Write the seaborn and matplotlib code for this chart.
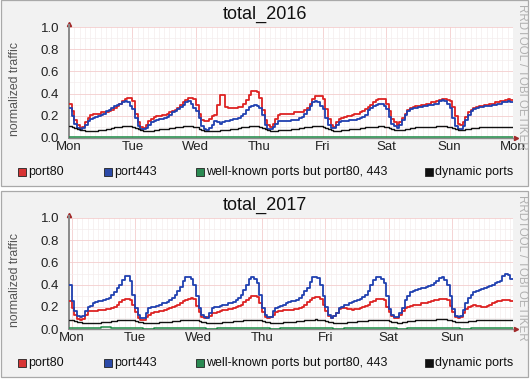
import numpy as np
import pandas as pd
import matplotlib
matplotlib.use('Agg')
import matplotlib.pyplot as plt
import seaborn as sns
from matplotlib.patches import Rectangle
from matplotlib.ticker import MultipleLocator

# ---- data (hourly values) ----
day_labels_2016 = ['Mon', 'Tue', 'Wed', 'Thu', 'Fri', 'Sat', 'Sun', 'Mon']
day_labels_2017 = ['Mon', 'Tue', 'Wed', 'Thu', 'Fri', 'Sat', 'Sun']
series_names = ['port80', 'port443', 'well-known ports but port80, 443', 'dynamic ports']

# 2016: one row per day, Mon 00:00 .. Sun 23:00
port80_2016 = [
    0.31, 0.24, 0.16, 0.12, 0.09, 0.10, 0.14, 0.18, 0.21, 0.22, 0.22, 0.22, 0.23, 0.23, 0.23, 0.24, 0.25, 0.27, 0.29, 0.31, 0.33, 0.35, 0.36, 0.36,
    0.33, 0.22, 0.14, 0.10, 0.09, 0.12, 0.15, 0.17, 0.19, 0.20, 0.20, 0.21, 0.21, 0.22, 0.23, 0.24, 0.25, 0.27, 0.30, 0.32, 0.34, 0.36, 0.36, 0.35,
    0.30, 0.22, 0.16, 0.15, 0.15, 0.17, 0.20, 0.21, 0.30, 0.39, 0.39, 0.28, 0.27, 0.27, 0.27, 0.27, 0.28, 0.28, 0.31, 0.34, 0.39, 0.42, 0.42, 0.41,
    0.36, 0.25, 0.16, 0.12, 0.10, 0.13, 0.17, 0.21, 0.22, 0.22, 0.22, 0.22, 0.22, 0.23, 0.23, 0.23, 0.23, 0.25, 0.27, 0.31, 0.35, 0.38, 0.38, 0.38,
    0.35, 0.26, 0.17, 0.12, 0.10, 0.14, 0.17, 0.18, 0.19, 0.20, 0.20, 0.21, 0.22, 0.22, 0.23, 0.24, 0.26, 0.28, 0.30, 0.32, 0.34, 0.35, 0.35, 0.35,
    0.31, 0.24, 0.17, 0.14, 0.12, 0.14, 0.18, 0.22, 0.25, 0.27, 0.28, 0.29, 0.29, 0.30, 0.30, 0.31, 0.31, 0.32, 0.32, 0.33, 0.34, 0.35, 0.35, 0.34,
    0.33, 0.28, 0.20, 0.13, 0.12, 0.14, 0.19, 0.23, 0.25, 0.27, 0.28, 0.29, 0.29, 0.30, 0.30, 0.31, 0.31, 0.32, 0.32, 0.33, 0.33, 0.34, 0.35, 0.34,
]
port443_2016 = [
    0.27, 0.20, 0.13, 0.09, 0.07, 0.09, 0.12, 0.15, 0.17, 0.18, 0.19, 0.20, 0.21, 0.22, 0.24, 0.25, 0.27, 0.29, 0.30, 0.31, 0.32, 0.33, 0.32, 0.29,
    0.26, 0.18, 0.11, 0.08, 0.08, 0.09, 0.12, 0.14, 0.15, 0.16, 0.17, 0.17, 0.18, 0.19, 0.21, 0.23, 0.24, 0.26, 0.28, 0.30, 0.32, 0.33, 0.31, 0.27,
    0.24, 0.18, 0.11, 0.08, 0.07, 0.09, 0.12, 0.15, 0.14, 0.13, 0.14, 0.15, 0.15, 0.16, 0.17, 0.17, 0.18, 0.20, 0.22, 0.25, 0.28, 0.29, 0.30, 0.29,
    0.27, 0.21, 0.12, 0.08, 0.08, 0.10, 0.13, 0.15, 0.15, 0.15, 0.15, 0.15, 0.16, 0.16, 0.16, 0.18, 0.19, 0.22, 0.25, 0.29, 0.32, 0.33, 0.32, 0.29,
    0.26, 0.18, 0.12, 0.09, 0.09, 0.12, 0.14, 0.15, 0.15, 0.15, 0.16, 0.16, 0.16, 0.17, 0.18, 0.19, 0.21, 0.25, 0.27, 0.29, 0.30, 0.31, 0.31, 0.29,
    0.26, 0.19, 0.13, 0.11, 0.09, 0.12, 0.16, 0.21, 0.24, 0.26, 0.27, 0.27, 0.28, 0.28, 0.29, 0.29, 0.30, 0.30, 0.31, 0.31, 0.33, 0.34, 0.33, 0.31,
    0.27, 0.18, 0.11, 0.08, 0.08, 0.11, 0.16, 0.21, 0.24, 0.26, 0.27, 0.28, 0.28, 0.29, 0.29, 0.29, 0.30, 0.30, 0.31, 0.31, 0.32, 0.32, 0.33, 0.32,
]
dynamic_2016 = [
    0.110, 0.100, 0.090, 0.080, 0.070, 0.070, 0.065, 0.060, 0.060, 0.060, 0.065, 0.070, 0.070, 0.075, 0.080, 0.085, 0.090, 0.095, 0.100, 0.100, 0.105, 0.110, 0.110, 0.110,
    0.100, 0.090, 0.080, 0.070, 0.065, 0.060, 0.060, 0.065, 0.070, 0.075, 0.080, 0.080, 0.080, 0.085, 0.090, 0.090, 0.095, 0.100, 0.100, 0.105, 0.110, 0.110, 0.110, 0.100,
    0.095, 0.085, 0.075, 0.065, 0.060, 0.060, 0.060, 0.065, 0.065, 0.070, 0.070, 0.070, 0.075, 0.080, 0.080, 0.085, 0.090, 0.095, 0.100, 0.100, 0.105, 0.110, 0.110, 0.105,
    0.100, 0.090, 0.080, 0.070, 0.065, 0.060, 0.065, 0.070, 0.070, 0.070, 0.075, 0.075, 0.080, 0.080, 0.085, 0.090, 0.090, 0.095, 0.100, 0.100, 0.105, 0.110, 0.110, 0.105,
    0.100, 0.090, 0.080, 0.070, 0.065, 0.065, 0.065, 0.070, 0.075, 0.075, 0.080, 0.080, 0.085, 0.085, 0.090, 0.090, 0.095, 0.095, 0.100, 0.100, 0.100, 0.105, 0.105, 0.100,
    0.095, 0.090, 0.080, 0.075, 0.070, 0.070, 0.075, 0.080, 0.085, 0.090, 0.090, 0.095, 0.095, 0.095, 0.100, 0.100, 0.100, 0.100, 0.100, 0.105, 0.105, 0.105, 0.105, 0.100,
    0.095, 0.090, 0.080, 0.075, 0.070, 0.072, 0.078, 0.082, 0.088, 0.090, 0.092, 0.095, 0.095, 0.098, 0.100, 0.100, 0.100, 0.102, 0.102, 0.100, 0.100, 0.100, 0.100, 0.100,
]
# well-known ports, 4-hour steps
wellknown_2016 = [
    0.008, 0.006, 0.008, 0.010, 0.010, 0.009, 0.008, 0.006, 0.008, 0.011, 0.010, 0.009,
    0.008, 0.006, 0.009, 0.011, 0.010, 0.009, 0.008, 0.006, 0.008, 0.010, 0.010, 0.009,
    0.008, 0.006, 0.008, 0.010, 0.010, 0.009, 0.008, 0.007, 0.008, 0.009, 0.009, 0.008,
    0.008, 0.007, 0.008, 0.009, 0.009, 0.008,
]

# 2017: first value is Sun 23:00, then one row per day from Mon 00:00 (last row stops at Sun 22:00)
port80_2017 = [0.25] + [
    0.19, 0.13, 0.09, 0.08, 0.09, 0.13, 0.16, 0.16, 0.16, 0.16, 0.17, 0.17, 0.17, 0.18, 0.18, 0.19, 0.20, 0.22, 0.24, 0.26, 0.27, 0.27, 0.26, 0.22,
    0.15, 0.10, 0.08, 0.08, 0.11, 0.13, 0.14, 0.15, 0.15, 0.16, 0.16, 0.17, 0.18, 0.19, 0.20, 0.21, 0.22, 0.23, 0.25, 0.26, 0.27, 0.28, 0.27, 0.21,
    0.15, 0.11, 0.10, 0.11, 0.12, 0.14, 0.14, 0.15, 0.16, 0.17, 0.17, 0.18, 0.18, 0.19, 0.20, 0.21, 0.22, 0.24, 0.26, 0.28, 0.30, 0.30, 0.29, 0.23,
    0.15, 0.11, 0.10, 0.11, 0.13, 0.15, 0.16, 0.16, 0.17, 0.17, 0.17, 0.17, 0.18, 0.18, 0.19, 0.20, 0.22, 0.24, 0.26, 0.28, 0.29, 0.29, 0.27, 0.22,
    0.16, 0.12, 0.10, 0.12, 0.14, 0.18, 0.19, 0.19, 0.18, 0.18, 0.17, 0.18, 0.18, 0.19, 0.20, 0.21, 0.22, 0.24, 0.25, 0.27, 0.27, 0.27, 0.26, 0.20,
    0.15, 0.12, 0.10, 0.10, 0.13, 0.16, 0.19, 0.20, 0.21, 0.22, 0.22, 0.22, 0.23, 0.23, 0.23, 0.24, 0.25, 0.26, 0.26, 0.27, 0.27, 0.27, 0.26, 0.21,
    0.15, 0.11, 0.10, 0.11, 0.14, 0.18, 0.20, 0.21, 0.22, 0.21, 0.21, 0.20, 0.20, 0.21, 0.22, 0.23, 0.24, 0.25, 0.25, 0.26, 0.26, 0.26, 0.25,
]
port443_2017 = [0.40] + [
    0.25, 0.16, 0.12, 0.11, 0.12, 0.16, 0.20, 0.21, 0.23, 0.24, 0.25, 0.25, 0.26, 0.27, 0.28, 0.31, 0.33, 0.37, 0.40, 0.44, 0.48, 0.48, 0.43, 0.31,
    0.19, 0.13, 0.10, 0.10, 0.14, 0.19, 0.20, 0.20, 0.21, 0.22, 0.23, 0.23, 0.24, 0.26, 0.28, 0.31, 0.34, 0.38, 0.43, 0.47, 0.47, 0.45, 0.40, 0.30,
    0.19, 0.13, 0.11, 0.10, 0.14, 0.19, 0.20, 0.20, 0.21, 0.22, 0.22, 0.23, 0.23, 0.24, 0.26, 0.28, 0.31, 0.35, 0.40, 0.45, 0.47, 0.45, 0.41, 0.31,
    0.19, 0.13, 0.11, 0.11, 0.16, 0.19, 0.20, 0.21, 0.22, 0.23, 0.24, 0.25, 0.25, 0.26, 0.28, 0.31, 0.34, 0.37, 0.42, 0.47, 0.47, 0.46, 0.40, 0.30,
    0.20, 0.13, 0.10, 0.12, 0.14, 0.19, 0.20, 0.22, 0.22, 0.23, 0.24, 0.25, 0.26, 0.27, 0.29, 0.31, 0.34, 0.40, 0.44, 0.47, 0.47, 0.45, 0.41, 0.30,
    0.18, 0.13, 0.11, 0.11, 0.14, 0.19, 0.26, 0.30, 0.33, 0.34, 0.35, 0.36, 0.37, 0.37, 0.38, 0.39, 0.40, 0.41, 0.43, 0.46, 0.47, 0.44, 0.40, 0.30,
    0.18, 0.12, 0.11, 0.12, 0.17, 0.23, 0.28, 0.31, 0.33, 0.34, 0.35, 0.36, 0.37, 0.38, 0.39, 0.40, 0.41, 0.42, 0.43, 0.48, 0.50, 0.49, 0.45,
]
dynamic_2017 = [0.085] + [
    0.080, 0.075, 0.065, 0.060, 0.055, 0.050, 0.050, 0.050, 0.050, 0.055, 0.055, 0.060, 0.060, 0.065, 0.065, 0.070, 0.075, 0.080, 0.080, 0.085, 0.085, 0.085, 0.085, 0.080,
    0.075, 0.065, 0.060, 0.055, 0.050, 0.050, 0.050, 0.055, 0.055, 0.060, 0.060, 0.060, 0.065, 0.065, 0.070, 0.070, 0.075, 0.080, 0.080, 0.085, 0.085, 0.085, 0.085, 0.080,
    0.075, 0.065, 0.060, 0.055, 0.050, 0.050, 0.050, 0.055, 0.055, 0.060, 0.060, 0.065, 0.065, 0.070, 0.070, 0.075, 0.075, 0.080, 0.080, 0.085, 0.085, 0.085, 0.085, 0.080,
    0.075, 0.065, 0.060, 0.055, 0.050, 0.050, 0.055, 0.055, 0.060, 0.060, 0.060, 0.065, 0.065, 0.070, 0.070, 0.075, 0.080, 0.080, 0.085, 0.085, 0.090, 0.085, 0.085, 0.080,
    0.075, 0.065, 0.060, 0.055, 0.050, 0.050, 0.055, 0.055, 0.060, 0.060, 0.065, 0.065, 0.070, 0.070, 0.075, 0.075, 0.080, 0.080, 0.085, 0.085, 0.085, 0.085, 0.085, 0.080,
    0.075, 0.065, 0.060, 0.055, 0.055, 0.060, 0.065, 0.070, 0.075, 0.075, 0.080, 0.080, 0.080, 0.085, 0.085, 0.085, 0.085, 0.085, 0.090, 0.090, 0.090, 0.090, 0.085, 0.080,
    0.075, 0.065, 0.060, 0.060, 0.060, 0.065, 0.070, 0.075, 0.075, 0.080, 0.080, 0.080, 0.080, 0.080, 0.080, 0.085, 0.085, 0.085, 0.085, 0.085, 0.085, 0.085, 0.085,
]
wellknown_2017 = [
    0.006, 0.005, 0.012, 0.015, 0.006, 0.005, 0.005, 0.004, 0.006, 0.012, 0.010, 0.006,
    0.005, 0.004, 0.006, 0.008, 0.006, 0.005, 0.005, 0.004, 0.006, 0.007, 0.006, 0.005,
    0.005, 0.004, 0.006, 0.007, 0.006, 0.005, 0.005, 0.004, 0.006, 0.008, 0.006, 0.005,
    0.005, 0.004, 0.006, 0.007, 0.006, 0.005,
]

colors = {
    'port80': '#dd2222',
    'port443': '#2040b0',
    'well-known ports but port80, 443': '#1d8a46',
    'dynamic ports': '#111111',
}
legend_fill = ['#d83434', '#2c4aa8', '#2a8a52', '#111111']

sns.set_theme(style='white')
plt.rcParams['font.family'] = ['Liberation Sans', 'DejaVu Sans']

W, H = 530, 380


def to_frame(start, step, values, name):
    """step data -> long frame, last value repeated so the final step is drawn"""
    hours = start + step * np.arange(len(values) + 1)
    vals = list(values) + [values[-1]]
    return pd.DataFrame({'hour': hours, 'value': vals, 'series': name})


def draw_panel(fig, top, title, p80, p443, wk, dyn, start, day_labels):
    # panel background box
    fig.add_artist(Rectangle((1 / W, 1 - (top + 186) / H), 527 / W, 186 / H,
                             transform=fig.transFigure, facecolor='#f2f2f2',
                             edgecolor='#a9a9a9', linewidth=0.9, zorder=0))

    ax = fig.add_axes([69 / W, 1 - (top + 138) / H, 444 / W, 111 / H])
    ax.set_facecolor('white')

    df = pd.concat([
        to_frame(start, 1, p80, 'port80'),
        to_frame(start, 1, p443, 'port443'),
        to_frame(start, 4, wk, 'well-known ports but port80, 443'),
        to_frame(start, 1, dyn, 'dynamic ports'),
    ], ignore_index=True)

    for name, lw in zip(series_names, [1.3, 1.3, 1.1, 1.0]):
        sns.lineplot(data=df[df['series'] == name], x='hour', y='value',
                     color=colors[name], drawstyle='steps-post', linewidth=lw,
                     estimator=None, legend=False, ax=ax, zorder=3)

    ax.set_xlim(start, start + 168)
    ax.set_ylim(0, 1.0)
    ax.set_xticks(np.arange(len(day_labels)) * 24)
    ax.set_xticklabels(day_labels)
    ax.set_yticks(np.arange(0, 1.01, 0.2))
    ax.set_yticklabels([f'{v:.1f}' for v in np.arange(0, 1.01, 0.2)])
    ax.xaxis.set_minor_locator(MultipleLocator(2))
    ax.yaxis.set_minor_locator(MultipleLocator(0.1))
    ax.grid(which='minor', color='#f4eded', linewidth=0.5)
    ax.grid(which='major', color='#f4cdcd', linewidth=0.6)
    ax.set_axisbelow(True)
    ax.tick_params(which='both', length=0)
    ax.tick_params(axis='y', pad=7, labelsize=9.5, labelcolor='#222222')
    ax.tick_params(axis='x', pad=2, labelsize=9.5, labelcolor='#222222')
    ax.set_xlabel('')
    ax.set_ylabel('')
    for s in ['top', 'right']:
        ax.spines[s].set_visible(False)
    ax.spines['left'].set_color('#8a8a8a')
    ax.spines['left'].set_linewidth(1.4)
    ax.spines['left'].set_bounds(0, 1.02)
    ax.spines['bottom'].set_color('#8a8a8a')
    ax.spines['bottom'].set_linewidth(1.0)
    # rrdtool style arrow heads
    ax.plot([0], [1.025], transform=ax.transAxes, marker='^', ms=3,
            color='#a02828', clip_on=False)
    ax.plot([1.006], [0], transform=ax.transAxes, marker='>', ms=3,
            color='#a02828', clip_on=False)

    fig.text(265 / W, 1 - (top + 14) / H, title, ha='center', va='center',
             fontsize=13, color='#111111')
    fig.text(15 / W, 1 - (top + 89) / H, 'normalized traffic', rotation=90,
             ha='center', va='center', fontsize=8.8, color='#555555')
    fig.text(522 / W, 1 - (top + 4) / H, 'RRDTOOL / TOBI OETIKER', rotation=270,
             ha='center', va='top', fontsize=8.3, color='#b0b0b0')

    # legend row
    for x0, name, fill in zip([18, 104, 196, 425], series_names, legend_fill):
        fig.add_artist(Rectangle((x0 / W, 1 - (top + 176) / H), 8 / W, 8 / H,
                                 transform=fig.transFigure, facecolor=fill,
                                 edgecolor='#222222', linewidth=0.6, zorder=2))
        fig.text((x0 + 10) / W, 1 - (top + 172) / H, name, ha='left',
                 va='center', fontsize=9, color='#111111')
    return ax


fig = plt.figure(figsize=(W / 100, H / 100), dpi=100)
fig.patch.set_facecolor('white')

draw_panel(fig, 0, 'total_2016', port80_2016, port443_2016, wellknown_2016,
           dynamic_2016, 0, day_labels_2016)
draw_panel(fig, 191, 'total_2017', port80_2017, port443_2017, wellknown_2017,
           dynamic_2017, -1, day_labels_2017)

fig.savefig('out.png', dpi=100)
